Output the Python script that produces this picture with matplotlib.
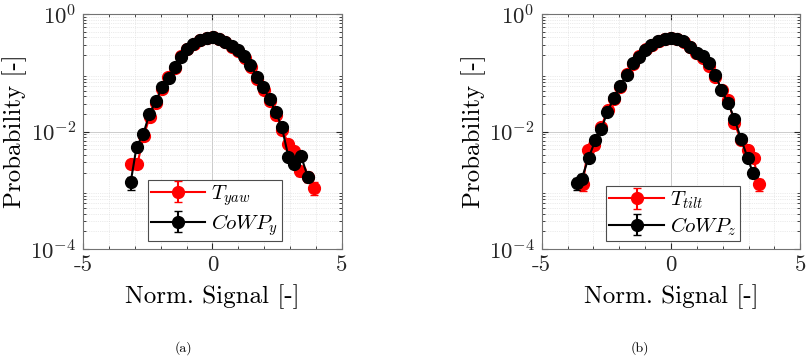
import matplotlib
matplotlib.use("Agg")
import matplotlib.pyplot as plt
import numpy as np
from matplotlib.ticker import LogLocator, FixedLocator, NullFormatter

plt.rcParams['font.family'] = ['cmr10', 'DejaVu Serif']
plt.rcParams['mathtext.fontset'] = 'cm'
plt.rcParams['axes.unicode_minus'] = False
plt.rcParams['axes.formatter.use_mathtext'] = True

# (a) yaw
yaw_x = [-3.16, -2.90, -2.65, -2.42, -2.18, -1.95, -1.70, -1.46, -1.22, -0.97,
         -0.72, -0.48, -0.22, 0.02, 0.26, 0.50, 0.76, 1.00, 1.25, 1.49,
         1.74, 1.98, 2.22, 2.47, 2.70, 2.94, 3.17, 3.40, 3.69, 3.92]
yaw_p = [2.8e-3, 2.8e-3, 8.5e-3, 0.018, 0.031, 0.054, 0.084, 0.12, 0.19, 0.25,
         0.31, 0.36, 0.39, 0.40, 0.37, 0.33, 0.28, 0.235, 0.18, 0.125,
         0.080, 0.052, 0.033, 0.019, 0.0105, 6.2e-3, 4.7e-3, 2.1e-3, 1.7e-3, 1.1e-3]
yaw_err = [0.15, 0.15, 0.08, 0.05, 0.04, 0.03, 0.02, 0.02, 0.02, 0.02,
           0.02, 0.02, 0.02, 0.02, 0.02, 0.02, 0.02, 0.02, 0.02, 0.02,
           0.03, 0.03, 0.04, 0.05, 0.07, 0.10, 0.12, 0.17, 0.2, 0.25]

cowpy_x = [-3.16, -2.93, -2.67, -2.44, -2.18, -1.95, -1.69, -1.45, -1.23, -0.97,
           -0.74, -0.48, -0.22, 0.01, 0.24, 0.49, 0.75, 0.98, 1.24, 1.47,
           1.73, 1.96, 2.22, 2.45, 2.68, 2.94, 3.17, 3.43, 3.69]
cowpy_p = [1.36e-3, 5.5e-3, 9.1e-3, 0.0196, 0.0331, 0.0565, 0.0815, 0.124, 0.188, 0.251,
           0.309, 0.363, 0.398, 0.401, 0.380, 0.333, 0.285, 0.240, 0.193, 0.135,
           0.0857, 0.0565, 0.0355, 0.0215, 0.0121, 3.7e-3, 2.8e-3, 3.8e-3, 1.66e-3]
cowpy_err = [0.25, 0.1, 0.07, 0.05, 0.04, 0.03, 0.02, 0.02, 0.02, 0.02,
             0.02, 0.02, 0.02, 0.02, 0.02, 0.02, 0.02, 0.02, 0.02, 0.02,
             0.03, 0.03, 0.04, 0.05, 0.07, 0.12, 0.14, 0.12, 0.18]

# (b) tilt
tilt_x = [-3.41, -3.22, -2.96, -2.70, -2.45, -2.20, -1.96, -1.71, -1.46, -1.22,
          -0.97, -0.73, -0.48, -0.24, 0.00, 0.25, 0.49, 0.74, 0.98, 1.23,
          1.47, 1.72, 1.96, 2.21, 2.45, 2.70, 2.96, 3.19, 3.41]
tilt_p = [1.26e-3, 4.8e-3, 5.8e-3, 0.0118, 0.0235, 0.036, 0.058, 0.095, 0.14, 0.19,
          0.25, 0.30, 0.35, 0.38, 0.39, 0.38, 0.34, 0.28, 0.215, 0.18,
          0.13, 0.085, 0.052, 0.035, 0.014, 7.2e-3, 4.9e-3, 3.5e-3, 1.26e-3]
tilt_err = [0.22, 0.1, 0.09, 0.06, 0.05, 0.04, 0.03, 0.02, 0.02, 0.02,
            0.02, 0.02, 0.02, 0.02, 0.02, 0.02, 0.02, 0.02, 0.02, 0.02,
            0.02, 0.03, 0.03, 0.04, 0.06, 0.08, 0.1, 0.13, 0.22]

cowpz_x = [-3.645, -3.45, -3.18, -2.92, -2.69, -2.46, -2.20, -1.97, -1.71, -1.45,
           -1.22, -0.99, -0.76, -0.50, -0.24, -0.01, 0.23, 0.48, 0.74, 1.00,
           1.23, 1.47, 1.72, 1.95, 2.21, 2.45, 2.70, 2.96, 3.17]
cowpz_p = [1.32e-3, 1.58e-3, 3.6e-3, 7.2e-3, 0.0110, 0.0219, 0.0372, 0.0594, 0.0912, 0.145,
           0.183, 0.244, 0.296, 0.343, 0.375, 0.385, 0.375, 0.343, 0.278, 0.219,
           0.193, 0.145, 0.0912, 0.0513, 0.0302, 0.0166, 7.6e-3, 3.6e-3, 1.95e-3]
cowpz_err = [0.22, 0.2, 0.12, 0.08, 0.06, 0.05, 0.04, 0.03, 0.02, 0.02,
             0.02, 0.02, 0.02, 0.02, 0.02, 0.02, 0.02, 0.02, 0.02, 0.02,
             0.02, 0.02, 0.03, 0.04, 0.05, 0.06, 0.08, 0.12, 0.16]

panels = [
    (yaw_x, yaw_p, yaw_err, r'$T_{yaw}$', cowpy_x, cowpy_p, cowpy_err, r'$CoWP_y$', '(a)'),
    (tilt_x, tilt_p, tilt_err, r'$T_{tilt}$', cowpz_x, cowpz_p, cowpz_err, r'$CoWP_z$', '(b)'),
]

fig = plt.figure(figsize=(8.06, 3.57), dpi=100)
lefts = [0.103, 0.672]
cap_x = [0.227, 0.794]

for i, (rx, rp, re, rlab, bx, bp, be, blab, cap) in enumerate(panels):
    ax = fig.add_axes([lefts[i], 0.3025, 0.321, 0.658])
    rp = np.array(rp)
    bp = np.array(bp)
    ax.errorbar(rx, rp, yerr=rp * np.array(re), color='red', marker='o', ms=8.5,
                lw=1.5, capsize=3, elinewidth=1.5, label=rlab)
    ax.errorbar(bx, bp, yerr=bp * np.array(be), color='black', marker='o', ms=8.5,
                lw=1.5, capsize=3, elinewidth=1.5, label=blab)
    ax.set_yscale('log')
    ax.set_xlim(-5, 5)
    ax.set_ylim(1e-4, 1)
    ax.set_xticks([-5, 0, 5])
    ax.set_xticklabels(['-5', '0', '5'])
    ax.xaxis.set_minor_locator(FixedLocator(np.arange(-5, 6, 1)))
    ax.set_yticks([1e-4, 1e-2, 1])
    ax.set_yticklabels([r'$10^{-4}$', r'$10^{-2}$', r'$10^{0}$'])
    ax.yaxis.set_minor_locator(LogLocator(base=10, subs=np.arange(2, 10), numticks=20))
    ax.yaxis.set_minor_formatter(NullFormatter())
    ax.tick_params(which='both', direction='in', top=True, right=True,
                   labelsize=16.5, colors='0.15', length=4, pad=5)
    ax.tick_params(which='minor', length=2)
    ax.grid(True, which='major', color='0.8', lw=0.7)
    ax.grid(True, which='minor', color='0.85', lw=0.5, ls=':')
    ax.set_axisbelow(True)
    for s in ax.spines.values():
        s.set_color('0.45')
    ax.set_xlabel('Norm. Signal [-]', fontsize=18, labelpad=6)
    ax.set_ylabel('Probability [-]', fontsize=18, labelpad=2)
    leg = ax.legend(loc='lower left', bbox_to_anchor=(0.25, 0.035), fontsize=15,
                    fancybox=False, framealpha=1, edgecolor='0.3', borderaxespad=0,
                    handlelength=2.6, borderpad=0.15, labelspacing=0.2, handletextpad=0.3)
    leg.get_frame().set_linewidth(0.8)
    fig.text(cap_x[i], 0.025, cap, fontsize=10, ha='center', va='center')

fig.savefig('out.png', dpi=100)
